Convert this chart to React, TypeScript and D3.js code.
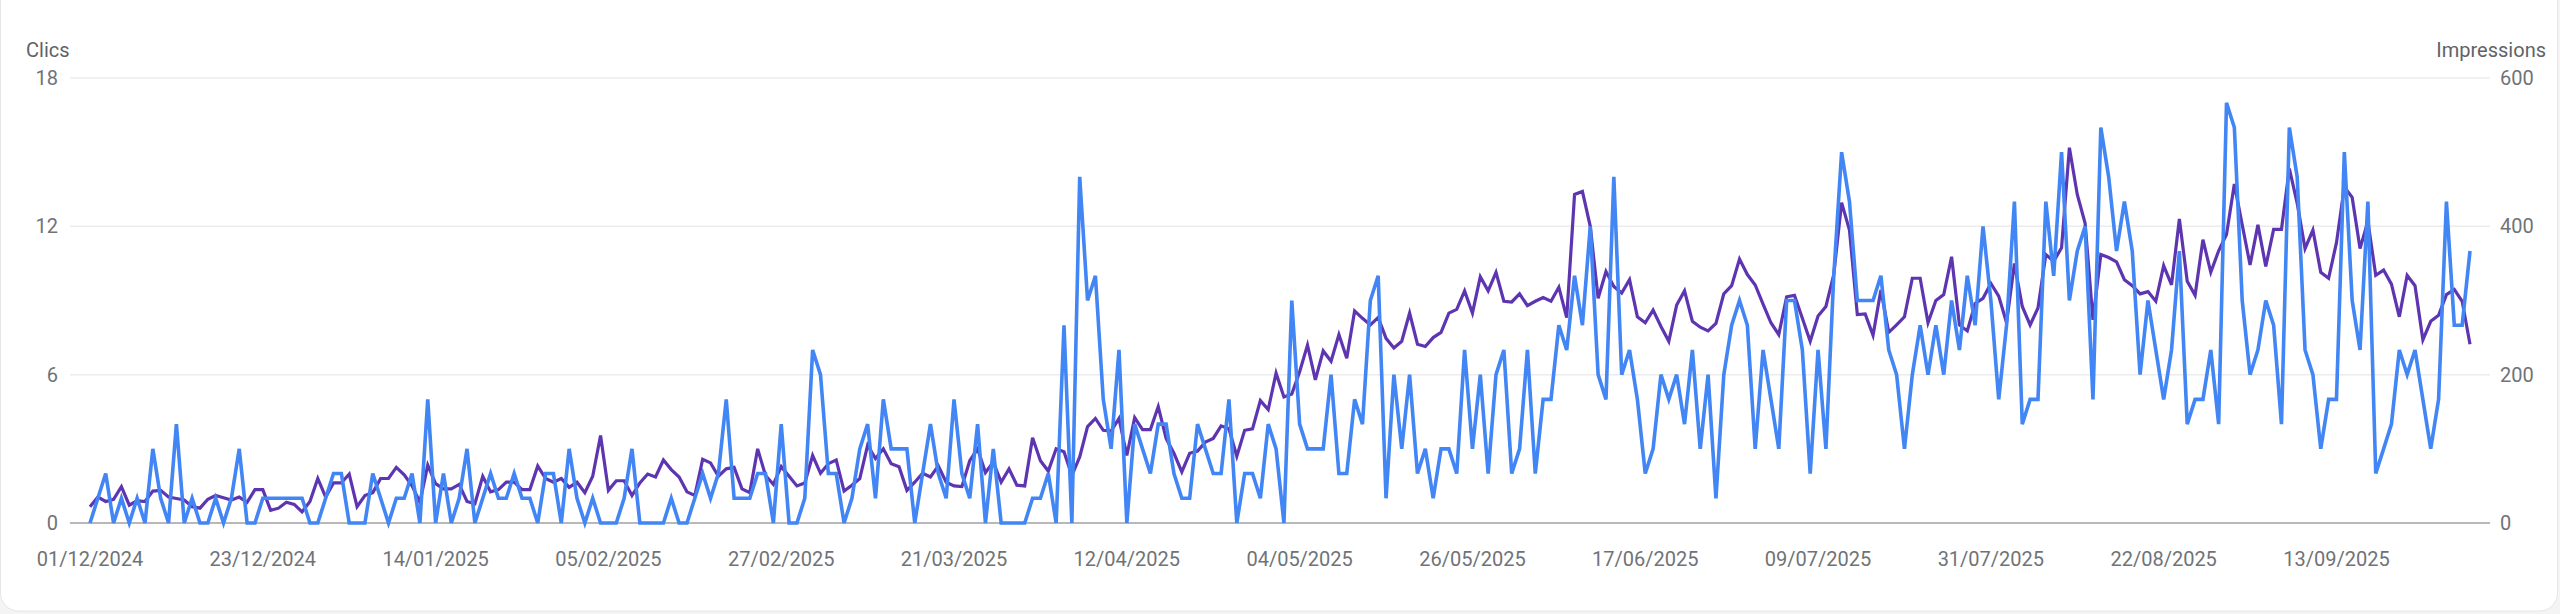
import React, { useEffect } from 'react';
import * as d3 from 'd3';

const startDate = '2024-12-01';
const endDate = '2025-09-30';

// Clics per day, 01/12/2024 -> 30/09/2025
const clics: number[] = [
  0, 1, 2, 0, 1, 0, 1, 0, 3, 1,
  0, 4, 0, 1, 0, 0, 1, 0, 1, 3,
  0, 0, 1, 1, 1, 1, 1, 1, 0, 0,
  1, 2, 2, 0, 0, 0, 2, 1, 0, 1,
  1, 2, 0, 5, 0, 2, 0, 1, 3, 0,
  1, 2, 1,
  1, 2, 1, 1, 0, 2, 2, 0, 3, 1, 0, 1, 0, 0, 0, 1, 3, 0, 0, 0,
  0, 1, 0, 0, 1, 2, 1, 2, 5, 1, 1, 1, 2, 2, 0, 4, 0, 0, 1, 7,
  6, 2, 2, 0, 1, 3, 4, 1, 5, 3, 3, 3, 0, 2, 4, 2, 1, 5, 2, 1,
  4, 0, 3, 0, 0, 0, 0, 1, 1, 2, 0, 8, 0, 14, 9, 10, 5, 3, 7, 0,
  4, 3, 2, 4, 4, 2, 1, 1, 4, 3, 2, 2, 5, 0, 2, 2, 1, 4, 3,
  0, 9, 4, 3, 3, 3, 6, 2, 2, 5, 4, 9, 10, 1, 6, 3, 6, 2, 3, 1,
  3, 3, 2, 7, 3, 6, 2, 6, 7, 2, 3, 7, 2, 5, 5, 8, 7, 10, 8, 12,
  6, 5, 14, 6, 7, 5, 2, 3, 6, 5, 6, 4, 7, 3, 6, 1, 6, 8, 9,
  8, 3, 7, 5, 3, 9, 9, 7, 2, 7, 3, 10, 15, 13, 9, 9, 9, 10, 7, 6,
  3, 6, 8, 6, 8, 6, 9, 7, 10, 8, 12, 9, 5, 8, 13, 4, 5, 5, 13, 10, 15, 9, 11, 12, 5, 16,
  14, 11, 13, 11, 6, 9, 7, 5, 7, 11, 4, 5, 5, 7, 4, 17, 16, 9, 6, 7,
  9, 8, 4, 16, 14, 7, 6, 3, 5, 5, 15, 9, 7, 13, 2, 3, 4, 7, 6, 7,
  5, 3, 5, 13, 8, 8, 11,
];

// Impressions per day
const impressions: number[] = [
  22, 35, 29, 32, 49, 24, 30, 29, 43, 44,
  35, 33, 31, 22, 20, 32, 37, 34, 31, 35,
  28, 45, 45, 17, 20, 28, 25, 15, 29, 60,
  35, 54, 54, 66, 22, 37, 41, 60, 60, 75,
  65, 50, 28, 78, 53, 46, 46, 52, 29, 26,
  63, 42, 45,
  55, 55, 45, 45, 77, 60, 55, 60, 48, 55, 41, 63, 118, 44, 57, 57, 37, 54, 66, 62,
  85, 72, 62, 42, 37, 86, 81, 63, 73, 75, 46, 41, 100, 64, 52, 76, 63, 50, 54, 91,
  67, 80, 85, 43, 51, 60, 105, 87, 100, 80, 76, 44, 55, 67, 62, 77, 55, 50, 49, 84,
  100, 68, 82, 55, 73, 51, 50, 115, 84, 70, 100, 96, 64, 89, 130, 141, 125, 124, 141, 91,
  142, 126, 126, 157, 114, 94, 69, 94, 97, 109, 114, 131, 127, 90, 125, 127, 165, 153, 202,
  170, 174, 204, 240, 193, 232, 218, 254, 222, 286, 276, 267, 277, 249, 236, 245, 283, 241, 238, 250,
  257, 283, 288, 313, 283, 332, 313, 338, 299, 298, 309, 293, 299, 304, 299, 318, 277, 443, 447, 400,
  303, 339, 319, 310, 328, 278, 270, 287, 265, 245, 294, 313, 272, 264, 259, 269, 309, 320, 356,
  335, 321, 295, 270, 254, 305, 307, 276, 245, 279, 292, 335, 432, 395, 281, 282, 253, 314, 257, 267,
  278, 330, 330, 270, 300, 308, 359, 267, 259, 296, 303, 323, 306, 270, 350, 292, 267, 290, 362, 353, 371, 506, 443, 404, 274, 362,
  358, 352, 328, 320, 309, 312, 299, 347, 321, 410, 326, 307, 382, 338, 367, 389, 457, 402, 348, 402,
  346, 396, 396, 478, 431, 370, 395, 338, 330, 378, 453, 439, 370, 407, 334, 341, 322, 278, 334, 320,
  247, 272, 280, 308, 315, 299, 241,
];

const xTickLabels = [
  '01/12/2024', '23/12/2024', '14/01/2025', '05/02/2025', '27/02/2025', '21/03/2025', '12/04/2025',
  '04/05/2025', '26/05/2025', '17/06/2025', '09/07/2025', '31/07/2025', '22/08/2025', '13/09/2025',
];
const clicsTicks = [0, 6, 12, 18];
const impressionsTicks = [0, 200, 400, 600];

const W = 2560;
const H = 614;
const plotLeft = 70;
const plotRight = 2490;
const plotTop = 78;
const plotBottom = 523;

const parseDay = d3.utcParse('%d/%m/%Y');
const parseIso = d3.utcParse('%Y-%m-%d');

const App: React.FC = () => {
  useEffect(() => {
    document.body.style.margin = '0';
  }, []);

  const start = parseIso(startDate) as Date;
  const dates = clics.map((_, i) => d3.utcDay.offset(start, i));

  const x = d3.scaleUtc()
    .domain([start, parseIso(endDate) as Date])
    .range([90, 2470]);
  const yLeft = d3.scaleLinear().domain([0, 18]).range([plotBottom, plotTop]);
  const yRight = d3.scaleLinear().domain([0, 600]).range([plotBottom, plotTop]);

  const clicsLine = d3.line<number>()
    .x((_, i) => x(dates[i]))
    .y(d => yLeft(d));
  const imprLine = d3.line<number>()
    .x((_, i) => x(dates[i]))
    .y(d => yRight(d));

  const font = 'Roboto, "Noto Sans", Arial, sans-serif';
  const labelColor = '#6f7377';

  return (
    <svg width={W} height={H} style={{ display: 'block' }}>
      <rect x={0} y={0} width={W} height={H} fill="#f4f4f4" />
      <rect x={0.5} y={-40} width={W - 3} height={651} rx={18} fill="#ffffff" stroke="#e6e6e6" />

      {clicsTicks.filter(t => t > 0).map(t => (
        <line key={t} x1={plotLeft} x2={plotRight} y1={yLeft(t)} y2={yLeft(t)} stroke="#ececec" strokeWidth={1.5} />
      ))}
      <line x1={plotLeft} x2={plotRight} y1={yLeft(0)} y2={yLeft(0)} stroke="#a0a0a0" strokeWidth={1.5} />

      <text x={26} y={57} fontFamily={font} fontSize={20} fill="#5f6368">Clics</text>
      <text x={2546} y={57} fontFamily={font} fontSize={20} fill="#5f6368" textAnchor="end">Impressions</text>

      {clicsTicks.map(t => (
        <text key={t} x={58} y={yLeft(t) + 7} fontFamily={font} fontSize={20} fill={labelColor} textAnchor="end">{t}</text>
      ))}
      {impressionsTicks.map(t => (
        <text key={t} x={2500} y={yRight(t) + 7} fontFamily={font} fontSize={20} fill={labelColor}>{t}</text>
      ))}
      {xTickLabels.map(l => (
        <text key={l} x={x(parseDay(l) as Date)} y={566} fontFamily={font} fontSize={20} fill={labelColor} textAnchor="middle">{l}</text>
      ))}

      <path d={imprLine(impressions) || ''} fill="none" stroke="#5e35b1" strokeWidth={3.2} />
      <path d={clicsLine(clics) || ''} fill="none" stroke="#4285f4" strokeWidth={3.6} />
    </svg>
  );
};

export default App;
